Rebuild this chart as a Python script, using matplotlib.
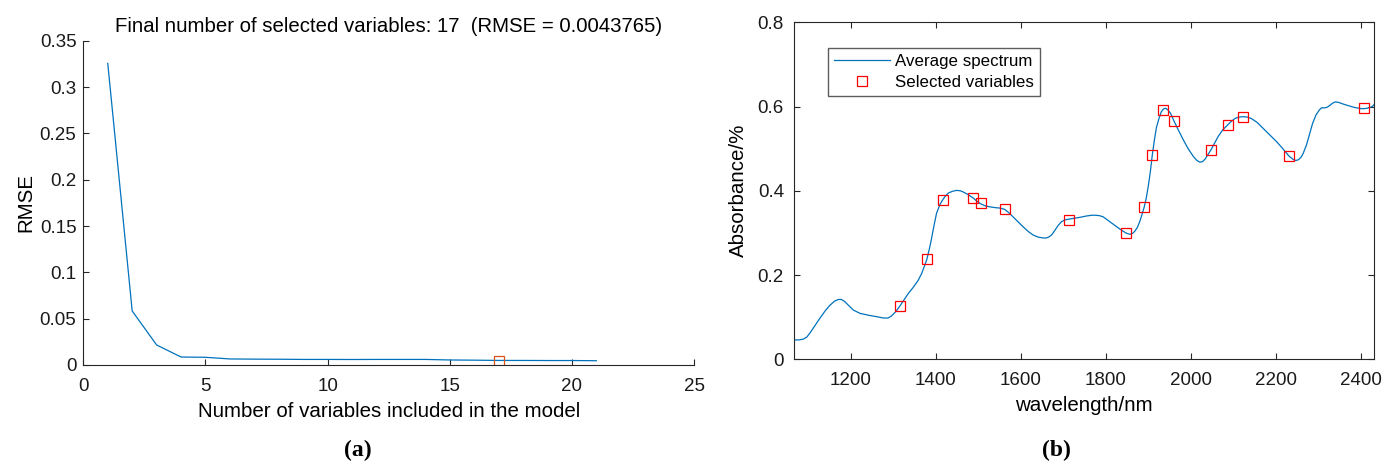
import numpy as np
import matplotlib
matplotlib.use("Agg")
from matplotlib import pyplot as plt

plt.rcParams['font.family'] = ['Liberation Sans', 'DejaVu Sans']

# (a) RMSE vs number of variables
n_vars = [1, 2, 3, 4, 5, 6, 7, 8, 9, 10, 11, 12, 13, 14, 15, 16, 17, 18, 19, 20, 21]
rmse = [0.3255, 0.0583, 0.0216, 0.0086, 0.0083, 0.0065, 0.0063, 0.0062, 0.0060, 0.0060,
        0.0059, 0.0060, 0.0060, 0.0060, 0.0054, 0.0052, 0.0049, 0.0049, 0.0048, 0.0048, 0.0046]
best_n = 17
best_rmse = 0.0043765

# (b) average spectrum
wl = [1066, 1078, 1089, 1097, 1104, 1116, 1128, 1140, 1151, 1162, 1171, 1178, 1185, 1195,
      1206, 1222, 1245, 1262, 1277, 1288, 1296, 1306, 1316, 1326, 1336, 1348, 1359, 1367,
      1373, 1379, 1385, 1390, 1396, 1402, 1410, 1418, 1424, 1430, 1440, 1449, 1458, 1465,
      1476, 1488, 1497, 1506, 1517, 1527, 1540, 1551, 1562, 1572, 1582, 1594, 1606, 1618,
      1629, 1641, 1653, 1660, 1667, 1673, 1680, 1688, 1696, 1704, 1714, 1726, 1739, 1753,
      1767, 1776, 1785, 1794, 1802, 1814, 1825, 1836, 1847, 1852, 1857, 1863, 1868, 1874,
      1880, 1885, 1890, 1895, 1900, 1905, 1909, 1914, 1919, 1925, 1930, 1935, 1940, 1945,
      1952, 1960, 1970, 1982, 1994, 2006, 2014, 2021, 2027, 2033, 2040, 2047, 2056, 2064,
      2075, 2086, 2095, 2104, 2113, 2122, 2133, 2143, 2156, 2170, 2186, 2202, 2216, 2230,
      2241, 2247, 2253, 2259, 2264, 2272, 2279, 2286, 2294, 2302, 2307, 2311, 2316, 2321,
      2327, 2333, 2339, 2347, 2355, 2364, 2374, 2384, 2394, 2400, 2407, 2414, 2421, 2426,
      2431]
absorb = [0.046, 0.046, 0.048, 0.053, 0.062, 0.080, 0.098, 0.115, 0.128, 0.138, 0.142, 0.142,
          0.138, 0.128, 0.117, 0.109, 0.104, 0.101, 0.098, 0.098, 0.103, 0.113, 0.127, 0.142,
          0.157, 0.172, 0.188, 0.204, 0.220, 0.237, 0.262, 0.286, 0.318, 0.347, 0.368, 0.381,
          0.389, 0.395, 0.399, 0.401, 0.400, 0.397, 0.391, 0.383, 0.375, 0.369, 0.364, 0.362,
          0.360, 0.359, 0.356, 0.348, 0.338, 0.326, 0.314, 0.303, 0.295, 0.290, 0.288, 0.288,
          0.291, 0.296, 0.306, 0.318, 0.327, 0.331, 0.333, 0.335, 0.337, 0.340, 0.342, 0.342,
          0.341, 0.338, 0.332, 0.323, 0.315, 0.307, 0.300, 0.298, 0.297, 0.299, 0.304, 0.313,
          0.328, 0.344, 0.361, 0.383, 0.413, 0.449, 0.484, 0.520, 0.551, 0.572, 0.587, 0.594,
          0.596, 0.593, 0.584, 0.566, 0.545, 0.521, 0.499, 0.481, 0.472, 0.468, 0.469, 0.475,
          0.486, 0.497, 0.514, 0.529, 0.545, 0.556, 0.565, 0.572, 0.575, 0.576, 0.575, 0.571,
          0.562, 0.548, 0.532, 0.516, 0.500, 0.483, 0.474, 0.472, 0.474, 0.480, 0.489, 0.510,
          0.535, 0.560, 0.580, 0.592, 0.597, 0.597, 0.597, 0.599, 0.603, 0.608, 0.611, 0.610,
          0.607, 0.604, 0.601, 0.598, 0.596, 0.595, 0.595, 0.596, 0.598, 0.600, 0.605]

# selected wavelengths
sel_wl = [1316, 1379, 1418, 1488, 1506, 1562, 1713, 1847, 1890, 1909, 1934, 1960, 2047,
          2086, 2122, 2230, 2407]
sel_abs = [0.127, 0.237, 0.378, 0.384, 0.371, 0.356, 0.331, 0.300, 0.361, 0.484, 0.592,
           0.566, 0.497, 0.556, 0.576, 0.482, 0.596]

xticks_a = [0, 5, 10, 15, 20, 25]
yticks_a = [0, 0.05, 0.1, 0.15, 0.2, 0.25, 0.3, 0.35]
ylabels_a = ['0', '0.05', '0.1', '0.15', '0.2', '0.25', '0.3', '0.35']
xticks_b = [1200, 1400, 1600, 1800, 2000, 2200, 2400]
yticks_b = [0, 0.2, 0.4, 0.6, 0.8]
ylabels_b = ['0', '0.2', '0.4', '0.6', '0.8']

blue = '#0072BD'
orange = '#D95319'
axcol = '#262626'

fig = plt.figure(figsize=(13.82, 4.62), dpi=100)

# ---- (a)
ax1 = fig.add_axes([0.0603, 0.2100, 0.4419, 0.7019])
ax1.plot(n_vars, rmse, color=blue, lw=0.9)
ax1.plot([best_n], [best_rmse], 's', mfc='none', mec=orange, ms=6.5, mew=0.9)
ax1.set_xlim(0, 25)
ax1.set_ylim(0, 0.35)
ax1.set_xticks(xticks_a)
ax1.set_yticks(yticks_a)
ax1.set_yticklabels(ylabels_a)
ax1.spines['top'].set_visible(False)
ax1.spines['right'].set_visible(False)
ax1.tick_params(direction='in', length=4.5, width=0.8, labelsize=13.5, colors=axcol,
                labelcolor='#1a1a1a')
ax1.tick_params(axis='x', pad=9.5)
ax1.tick_params(axis='y', pad=5)
for s in ['left', 'bottom']:
    ax1.spines[s].set_color(axcol)
    ax1.spines[s].set_linewidth(0.8)
ax1.set_title('Final number of selected variables: %d  (RMSE = %s)' % (best_n, '0.0043765'),
              fontsize=14.7, pad=6.5)
ax1.set_xlabel('Number of variables included in the model', fontsize=14.8, labelpad=5)
ax1.set_ylabel('RMSE', fontsize=14.8, labelpad=3)

# ---- (b)
ax2 = fig.add_axes([0.5743, 0.2223, 0.4201, 0.7294])
ax2.plot(wl, absorb, color=blue, lw=0.9, label='Average spectrum')
ax2.plot(sel_wl, sel_abs, 's', mfc='none', mec='#FF0000', ms=6.5, mew=0.9,
         label='Selected variables')
ax2.set_xlim(1066, 2431)
ax2.set_ylim(0, 0.8)
ax2.set_xticks(xticks_b)
ax2.set_yticks(yticks_b)
ax2.set_yticklabels(ylabels_b)
ax2.tick_params(direction='in', length=4.5, width=0.8, labelsize=13.5, colors=axcol,
                labelcolor='#1a1a1a', top=True, right=True)
ax2.tick_params(axis='x', pad=9.5)
ax2.tick_params(axis='y', pad=7)
for s in ax2.spines.values():
    s.set_color(axcol)
    s.set_linewidth(0.8)
ax2.set_xlabel('wavelength/nm', fontsize=14.8, labelpad=5)
ax2.set_ylabel('Absorbance/%', fontsize=14.8, labelpad=7)
leg = ax2.legend(loc='upper left', bbox_to_anchor=(0.0596, 0.9228), borderaxespad=0,
                 fontsize=12.2, frameon=True, fancybox=False, handlelength=3.3,
                 handletextpad=0.3, labelspacing=0.35, borderpad=0.35)
leg.get_frame().set_edgecolor('#333333')
leg.get_frame().set_linewidth(1.0)

fig.text(0.2587, 0.026, '(a)', fontsize=17, fontweight='bold', family='Liberation Serif',
         ha='center', va='center')
fig.text(0.7641, 0.026, '(b)', fontsize=17, fontweight='bold', family='Liberation Serif',
         ha='center', va='center')

fig.savefig('out.png', dpi=100)
